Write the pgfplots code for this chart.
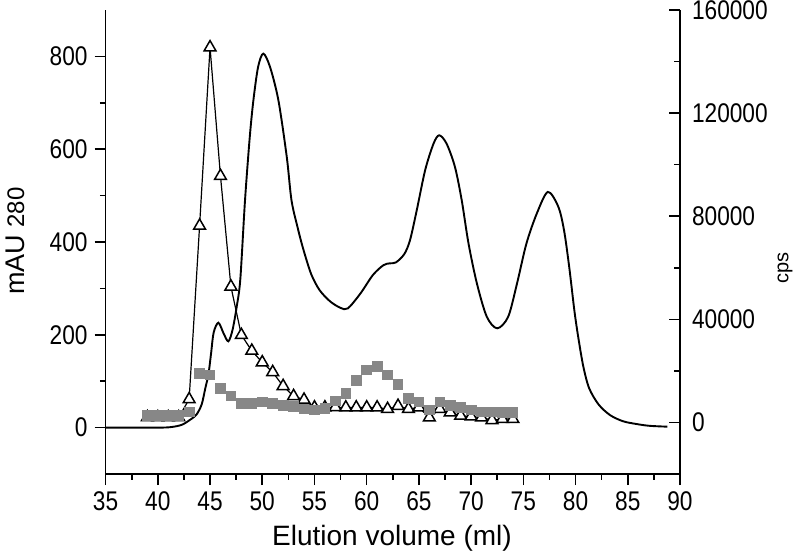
\documentclass[border=0pt]{standalone}
\usepackage{pgfplots}
\pgfplotsset{compat=1.18}
\usepackage{fontspec}
\setmainfont{Liberation Sans}
\newfontfamily\condfont[FakeStretch=0.84]{Liberation Sans}
\definecolor{sqgray}{RGB}{135,135,135}

\begin{document}
\begin{tikzpicture}
\useasboundingbox (-52.8pt,-40pt) rectangle (347.2pt,237pt);
\pgfplotsset{
  every axis/.append style={
    scale only axis, width=287.2pt, height=232pt,
    at={(0,0)}, anchor=south west,
    xmin=35, xmax=90,
    axis line style={line width=0.9pt},
    major tick length=5.5pt, minor tick length=2.8pt,
    every tick/.append style={line width=0.8pt, black},
    tick label style={font=\condfont\fontsize{13.5}{14}\selectfont},
    /pgf/number format/assume math mode=true,
    /pgf/number format/fixed,
    /pgf/number format/1000 sep={},
  }
}
% UV trace, left axis
\begin{axis}[
  axis x line*=bottom, axis y line*=left,
  ymin=-100, ymax=900,
  xtick={35,40,...,90}, minor x tick num=1,
  ytick={0,200,...,800}, minor y tick num=1,
  tick align=outside,
  xlabel={Elution volume (ml)},
  ylabel={mAU {\fontsize{12}{13}\selectfont 280}},
  xlabel style={at={(axis description cs:0.4986,-0.138)}, anchor=center, font=\fontsize{14}{16}\selectfont},
  ylabel style={at={(axis description cs:-0.1577,0.502)}, anchor=center, font=\fontsize{13.5}{15}\selectfont},
]
\addplot[black, line width=0.95pt, smooth, tension=0.5] coordinates {
(35,0) (38,0) (40,0) (41,0.5) (41.8,3) (42.4,7) (43.1,17) (43.7,28) (44.2,50)
(44.55,85) (44.85,115) (45.1,160) (45.35,205) (45.8,226) (46.3,203) (46.75,186)
(47.15,210) (47.55,260) (47.9,320) (48.35,490) (48.8,625) (49.15,705) (49.6,777)
(50.1,806) (50.75,777) (51.55,705) (52.35,583) (52.8,490) (53.4,430) (53.95,383)
(54.7,330) (55.5,296) (56.5,272) (57.5,258) (58.2,257) (59.4,289) (60.6,329)
(61.6,350) (62.2,354) (62.8,356) (63.6,374) (64.15,404) (64.8,469) (65.6,555)
(66.4,612) (66.95,630) (67.65,612) (68.45,562) (69.1,490) (69.75,397) (70.55,311)
(71.5,239) (72.5,214) (73.55,239) (74.4,311) (75.3,397) (76.3,462) (77.35,508)
(78.35,476) (78.9,425) (79.4,345) (79.9,250) (80.3,189) (80.75,131) (81.3,85)
(82.2,50) (83.3,27) (84.5,14) (85.5,9) (87,4) (88.8,2)
};
\end{axis}
% counts, right axis
\begin{axis}[
  axis x line=none, axis y line*=right,
  ymin=-20000, ymax=160000,
  ytick={0,40000,...,160000}, minor y tick num=1,
  scaled y ticks=false,
  tick align=inside,
  yticklabel style={xshift=2.5pt},
  ylabel={cps},
  ylabel style={at={(axis description cs:1.1828,0.444)}, anchor=center, font=\fontsize{10}{12}\selectfont},
]
\addplot[black, line width=0.6pt, mark=triangle*, mark size=3.4pt,
  mark options={fill=white, draw=black, line width=0.75pt}] coordinates {
(39,2000) (40,2000) (41,2000) (42,2000) (43,9000) (44,76300) (45,145500)
(46,95600) (47,52700) (48,33900) (49,27800) (50,23300) (51,19500) (52,14100)
(53,10200) (54,8800) (55,5800) (56,5800) (57,5900) (58,5800) (59,5800)
(60,5800) (61,5800) (62,5200) (63,6400) (64,5200) (65,5800) (66,1900)
(67,5200) (68,3900) (69,2600) (70,2300) (71,1900) (72,900) (73,1300) (74,1300)
};
\addplot[only marks, mark=square*, mark size=2.4pt,
  mark options={draw=sqgray, fill=sqgray}] coordinates {
(39,2830) (40,2830) (41,2830) (42,2830) (43,4100) (44,19100) (45,18500)
(46,13200) (47,10300) (48,7500) (49,7500) (50,8000) (51,7500) (52,6700)
(53,6200) (54,5200) (55,4900) (56,5400) (57,8400) (58,11300) (59,16400)
(60,20400) (61,21800) (62,18400) (63,14700) (64,9300) (65,8000) (66,4800)
(67,8000) (68,6700) (69,5800) (70,4900) (71,4100) (72,4100) (73,3900) (74,3900)
};
\end{axis}
\end{tikzpicture}
\end{document}
